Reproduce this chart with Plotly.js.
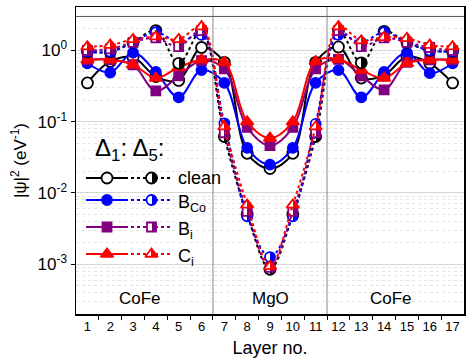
<!DOCTYPE html>
<html>
<head>
<meta charset="utf-8">
<script src="https://cdn.plot.ly/plotly-3.0.1.min.js"></script>
<style>html,body{margin:0;padding:0;background:#fff;}#chart{width:471px;height:358px;}</style>
</head>
<body>
<div id="chart"></div>
<script>
// ---- data ----
const layers = [1, 2, 3, 4, 5, 6, 7, 8, 9, 10, 11, 12, 13, 14, 15, 16, 17];
const xTickText = ['1','2','3','4','5','6','7','8','9','10','11','12','13','14','15','16','17'];
const yTickVals = [1, 0.1, 0.01, 0.001];
const yTickText = ['10<sup>0</sup>', '10<sup>-1</sup>', '10<sup>-2</sup>', '10<sup>-3</sup>'];

const seriesNames = ['clean', 'B<sub>Co</sub>', 'B<sub>i</sub>', 'C<sub>i</sub>'];

// Delta_1 (solid lines)
const clean_d1 = [0.35, 0.70, 0.80, 0.43, 0.38, 1.10, 0.68, 0.036, 0.022, 0.036, 0.68, 1.12, 0.41, 0.45, 0.82, 0.66, 0.35];
const bco_d1   = [0.66, 0.49, 0.93, 0.50, 0.22, 0.53, 0.35, 0.043, 0.025, 0.043, 0.35, 0.53, 0.22, 0.50, 0.93, 0.48, 0.66];
const bi_d1    = [0.74, 0.74, 0.63, 0.27, 0.44, 0.72, 0.55, 0.083, 0.046, 0.083, 0.55, 0.75, 0.44, 0.28, 0.68, 0.74, 0.74];
const ci_d1    = [0.74, 0.74, 0.63, 0.41, 0.58, 0.74, 0.68, 0.10, 0.059, 0.10, 0.70, 0.75, 0.53, 0.41, 0.66, 0.74, 0.74];

// Delta_5 (dotted lines)
const clean_d5 = [0.96, 0.96, 1.30, 1.90, 0.66, 1.90, 0.062, 0.0050, 0.00085, 0.0050, 0.062, 1.90, 0.67, 1.85, 1.29, 1.00, 0.97];
const bco_d5   = [0.96, 0.96, 1.30, 1.80, 1.30, 1.65, 0.095, 0.0047, 0.00126, 0.0047, 0.093, 1.65, 1.30, 1.80, 1.30, 1.00, 0.97];
const bi_d5    = [1.00, 1.05, 1.30, 1.50, 1.13, 1.90, 0.070, 0.0055, 0.00090, 0.0055, 0.070, 1.90, 1.13, 1.50, 1.30, 1.10, 1.00];
const ci_d5    = [1.13, 1.19, 1.43, 1.56, 1.43, 2.16, 0.085, 0.0068, 0.00093, 0.0068, 0.085, 2.16, 1.37, 1.53, 1.48, 1.19, 1.13];

const regionLabels = ['CoFe', 'MgO', 'CoFe'];
const regionX = [3.3, 9, 14.3];
const dividers = [6.5, 11.5];

// ---- styles ----
const colors = ['#000000', '#0000ff', '#800080', '#ff0000'];
const symbols = ['circle', 'circle', 'square', 'triangle-up'];
const sizes = [11, 10, 9, 11];
const d1Fill = ['#ffffff', '#0000ff', '#800080', '#ff0000'];
const d1Data = [clean_d1, bco_d1, bi_d1, ci_d1];
const d5Data = [clean_d5, bco_d5, bi_d5, ci_d5];

function d1Marker(i) {
  return {symbol: symbols[i], size: sizes[i], color: d1Fill[i], line: {color: colors[i], width: 1.8}};
}
function d5Marker(i) {
  return {symbol: symbols[i], size: sizes[i], color: '#ffffff',
          gradient: {type: 'horizontal', color: colors[i]},
          line: {color: colors[i], width: 1.8}};
}

const traces = [];
for (let i = 0; i < 4; i++) {
  traces.push({x: layers, y: d1Data[i], type: 'scatter', mode: 'lines+markers',
    line: {color: colors[i], width: 2, shape: 'spline'}, marker: d1Marker(i),
    showlegend: false, hoverinfo: 'skip'});
}
for (let i = 0; i < 4; i++) {
  traces.push({x: layers, y: d5Data[i], type: 'scatter', mode: 'lines+markers',
    line: {color: colors[i], width: 2, dash: 'dot', shape: 'spline'}, marker: d5Marker(i),
    showlegend: false, hoverinfo: 'skip'});
}

// custom legend on a pixel-like overlay axis
const legRowY = [178, 200, 227, 254];
for (let i = 0; i < 4; i++) {
  traces.push({x: [86, 107, 128], y: [legRowY[i], legRowY[i], legRowY[i]], xaxis: 'x2', yaxis: 'y2',
    type: 'scatter', mode: 'lines', line: {color: colors[i], width: 2}, showlegend: false, hoverinfo: 'skip'});
  traces.push({x: [107], y: [legRowY[i]], xaxis: 'x2', yaxis: 'y2',
    type: 'scatter', mode: 'markers', marker: d1Marker(i), showlegend: false, hoverinfo: 'skip'});
  traces.push({x: [131, 170], y: [legRowY[i], legRowY[i]], xaxis: 'x2', yaxis: 'y2',
    type: 'scatter', mode: 'lines', line: {color: colors[i], width: 2, dash: 'dot'}, showlegend: false, hoverinfo: 'skip'});
  traces.push({x: [151.5], y: [legRowY[i]], xaxis: 'x2', yaxis: 'y2',
    type: 'scatter', mode: 'markers', marker: d5Marker(i), showlegend: false, hoverinfo: 'skip'});
}

const annotations = [];
for (let i = 0; i < 3; i++) {
  annotations.push({x: regionX[i], y: Math.log10(0.00033), xref: 'x', yref: 'y', text: regionLabels[i],
    showarrow: false, font: {size: 17, color: '#000'}});
}
for (let i = 0; i < 4; i++) {
  annotations.push({x: 176, y: legRowY[i], xref: 'x2', yref: 'y2', text: seriesNames[i],
    xanchor: 'left', yanchor: 'middle', showarrow: false, font: {size: 18, color: '#000'}, yshift: i === 0 ? 0 : -3});
}
annotations.push({x: 93, y: 149, xref: 'x2', yref: 'y2', xanchor: 'left', yanchor: 'middle',
  text: '\u0394<sub>1</sub>: \u0394<sub>5</sub>:', showarrow: false, font: {size: 24, color: '#000'}});

const shapes = dividers.map(d => ({type: 'line', xref: 'x', yref: 'paper', x0: d, x1: d, y0: 0, y1: 1,
  line: {color: '#8a8a8a', width: 1}}));
shapes.push({type: 'line', xref: 'paper', yref: 'y', x0: 0, x1: 1, y0: 3, y1: 3,
  line: {color: '#555', width: 1}});

const layout = {
  width: 471, height: 358,
  margin: {l: 76, r: 7, t: 7, b: 44},
  paper_bgcolor: '#fff', plot_bgcolor: '#fff',
  font: {family: 'Arial, "Liberation Sans", sans-serif', color: '#000'},
  showlegend: false,
  xaxis: {range: [0.5, 17.5], tickmode: 'array', tickvals: layers, ticktext: xTickText,
    ticks: '', showgrid: false, zeroline: false, showline: true, mirror: true,
    linecolor: '#000', linewidth: 1.5, tickfont: {size: 13},
    minor: {tickmode: 'array', tickvals: [1.5,2.5,3.5,4.5,5.5,6.5,7.5,8.5,9.5,10.5,11.5,12.5,13.5,14.5,15.5,16.5],
      ticks: 'outside', ticklen: 4, tickcolor: '#000', showgrid: false},
    title: {text: 'Layer no.', font: {size: 18}, standoff: 8}},
  yaxis: {type: 'log', range: [Math.log10(0.0002), Math.log10(4.07)],
    tickmode: 'array', tickvals: yTickVals, ticktext: yTickText,
    ticks: 'outside', ticklen: 4, tickcolor: '#000',
    showgrid: true, gridcolor: '#d4d4d4', gridwidth: 1, zeroline: false,
    showline: true, mirror: true, linecolor: '#000', linewidth: 1.5, tickfont: {size: 17},
    minor: {dtick: 'D1', showgrid: true, gridcolor: '#e4e4e4', griddash: 'dot', ticks: ''},
    title: {text: '|\u03c8|<sup>2</sup> (eV<sup>-1</sup>)', font: {size: 17}, standoff: 6}},
  xaxis2: {overlaying: 'x', range: [76, 464], visible: false, fixedrange: true},
  yaxis2: {overlaying: 'y', range: [314, 7], visible: false, fixedrange: true},
  annotations: annotations,
  shapes: shapes
};

// turn the smooth two-colour marker gradients into hard half-fills
function hardenGradients(gd) {
  const NS = 'http://www.w3.org/2000/svg';
  gd.querySelectorAll('linearGradient').forEach(g => {
    const stops = g.querySelectorAll('stop');
    if (stops.length < 2) return;
    const a = stops[0], b = stops[stops.length - 1];
    const ca = a.getAttribute('stop-color'), oa = a.getAttribute('stop-opacity') || '1';
    const cb = b.getAttribute('stop-color'), ob = b.getAttribute('stop-opacity') || '1';
    while (g.firstChild) g.removeChild(g.firstChild);
    [[0, ca, oa], [50, ca, oa], [50, cb, ob], [100, cb, ob]].forEach(s => {
      const st = document.createElementNS(NS, 'stop');
      st.setAttribute('offset', s[0] + '%');
      st.setAttribute('stop-color', s[1]);
      st.setAttribute('stop-opacity', s[2]);
      g.appendChild(st);
    });
  });
}

Plotly.newPlot('chart', traces, layout, {staticPlot: true, displayModeBar: false}).then(hardenGradients);
</script>
</body>
</html>
